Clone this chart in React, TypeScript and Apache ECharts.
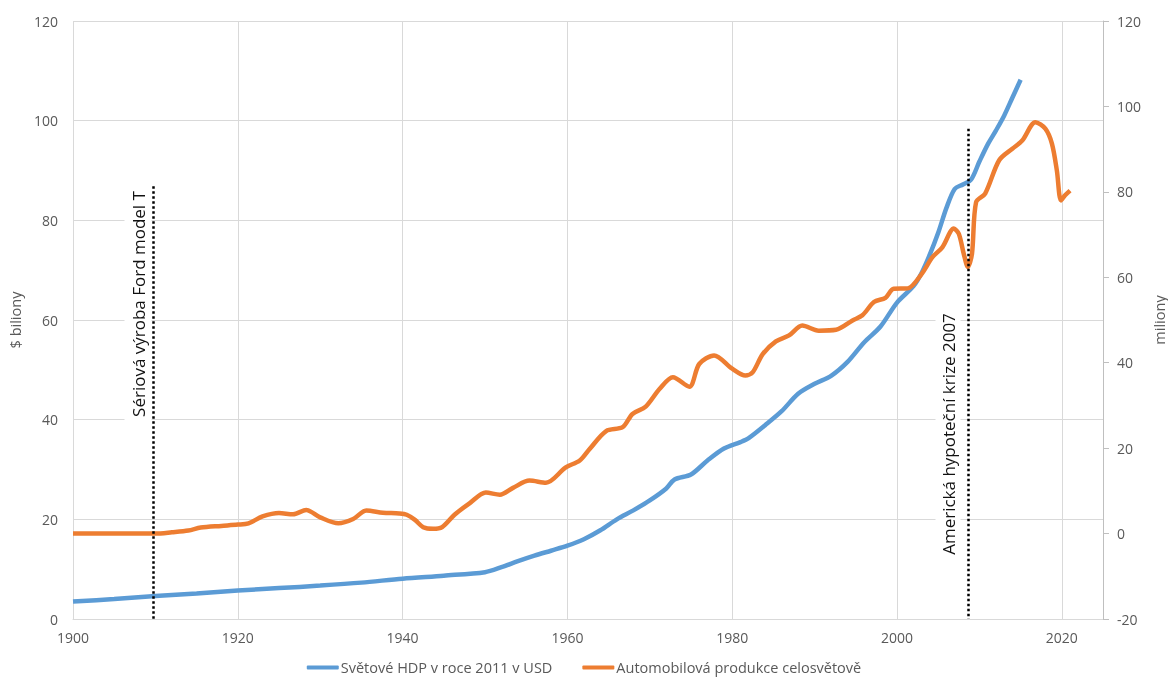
import React, { useEffect, useRef } from "react";
import * as echarts from "echarts";

// Světové HDP v roce 2011 v USD ($ biliony, left axis)
const gdpYears = [1900, 1905, 1910, 1915, 1920, 1925, 1930, 1935, 1940, 1945, 1950, 1952, 1954, 1956, 1958, 1960, 1962, 1964, 1966, 1968, 1970, 1972, 1973, 1975, 1977, 1979, 1981, 1982, 1984, 1986, 1988, 1990, 1992, 1994, 1996, 1998, 2000, 2002, 2003, 2004, 2005, 2006, 2007, 2008, 2009, 2010, 2011, 2012, 2013, 2014, 2015];
const gdpValues = [3.5, 4.0, 4.6, 5.1, 5.7, 6.2, 6.7, 7.3, 8.1, 8.7, 9.4, 10.4, 11.6, 12.7, 13.7, 14.7, 16.0, 17.8, 20.0, 21.8, 23.8, 26.2, 28.0, 29.0, 31.8, 34.2, 35.5, 36.3, 38.9, 41.7, 45.2, 47.2, 48.8, 51.6, 55.5, 58.7, 63.5, 66.8, 69.5, 73.2, 77.5, 82.5, 86.3, 87.2, 88.2, 91.8, 95.2, 98.0, 101.0, 104.6, 108.2];

// Automobilová produkce celosvětově (miliony, right axis)
const carYears = [1900, 1905, 1910, 1912, 1914, 1915.5, 1918, 1920, 1921.3, 1923, 1925, 1926.7, 1928.3, 1930, 1932.2, 1934, 1935.6, 1937.6, 1939.6, 1940.5, 1941.5, 1942.5, 1943.7, 1944.8, 1946.3, 1948.2, 1950.1, 1951.8, 1953.4, 1955.4, 1957.4, 1959.8, 1961.5, 1962.7, 1964.7, 1966.7, 1967.9, 1969.5, 1971.2, 1972.8, 1974.8, 1976, 1977.8, 1980, 1981.6, 1982.5, 1983.7, 1985.3, 1986.9, 1988.5, 1990.5, 1992.6, 1994.6, 1995.8, 1997.2, 1998.6, 1999.6, 2001.3, 2003, 2004.3, 2005.5, 2006.9, 2007.5, 2008.1, 2008.6, 2009.1, 2009.6, 2010.7, 2012.4, 2014, 2015.2, 2016.8, 2018, 2018.8, 2019.4, 2019.9, 2020.4, 2021];
const carValues = [0, 0, 0, 0.3, 0.7, 1.4, 1.8, 2.1, 2.4, 4.0, 4.8, 4.5, 5.5, 3.8, 2.4, 3.4, 5.4, 4.9, 4.7, 4.4, 3.2, 1.5, 1.1, 1.5, 4.4, 7.2, 9.6, 9.1, 10.7, 12.4, 11.9, 15.5, 17.1, 19.8, 24.0, 24.9, 28.0, 29.7, 33.9, 36.6, 34.4, 39.7, 41.7, 38.6, 37.0, 37.8, 42.0, 45.0, 46.4, 48.7, 47.5, 47.7, 49.9, 51.1, 54.2, 55.2, 57.3, 57.4, 60.8, 64.7, 67.0, 71.4, 70.2, 65.5, 62.4, 65.5, 77.6, 79.6, 87.4, 90.1, 92.0, 96.3, 94.8, 91.3, 85.0, 78.0, 79.2, 80.3];

// annotations (year, top value on right axis)
const annotationYears = [1909.7, 2008.7];
const annotationTops = [81.3, 94.8];
const annotationTexts = ["Sériová výroba Ford model T", "Americká hypoteční krize 2007"];

const seriesNames = ["Světové HDP v roce 2011 v USD", "Automobilová produkce celosvětově"];

const FONT = "'Open Sans', 'Noto Sans', sans-serif";
const GREY = "#595959";

export default function App() {
  const ref = useRef<HTMLDivElement>(null);
  useEffect(() => {
    if (!ref.current) return;
    const chart = echarts.init(ref.current, undefined, { renderer: "svg" });
    const gdpData = gdpYears.map((y, i) => [y, gdpValues[i]]);
    const carData = carYears.map((y, i) => [y, carValues[i]]);
    const option: any = {
      animation: false,
      textStyle: { fontFamily: FONT },
      grid: {
        left: 73,
        right: 65,
        top: 21,
        bottom: 63,
        containLabel: false,
        outerBoundsMode: "none",
      },
      legend: {
        data: seriesNames,
        bottom: 2,
        left: "center",
        icon: "roundRect",
        itemWidth: 32,
        itemHeight: 4,
        itemGap: 30,
        textStyle: { color: GREY, fontSize: 14.5, fontFamily: FONT, padding: [0, 0, 0, -3] },
      },
      xAxis: {
        type: "value",
        min: 1900,
        max: 2025,
        interval: 20,
        axisLine: { show: true, lineStyle: { color: "#d9d9d9", width: 1 } },
        axisTick: { show: false },
        axisLabel: {
          color: GREY,
          fontSize: 14,
          margin: 11,
          showMaxLabel: false,
          formatter: (v: number) => String(v),
        },
        splitLine: { show: true, lineStyle: { color: "#d9d9d9" } },
      },
      yAxis: [
        {
          type: "value",
          min: 0,
          max: 120,
          interval: 20,
          name: "$ biliony",
          nameLocation: "middle",
          nameRotate: 90,
          nameGap: 46,
          nameTextStyle: { color: GREY, fontSize: 14.5 },
          axisLine: { show: false },
          axisTick: { show: false },
          axisLabel: { color: GREY, fontSize: 14, margin: 15 },
          splitLine: { show: true, lineStyle: { color: "#d9d9d9" } },
        },
        {
          type: "value",
          position: "right",
          min: -20,
          max: 120,
          interval: 20,
          name: "miliony",
          nameLocation: "middle",
          nameRotate: 90,
          nameGap: 48,
          nameTextStyle: { color: GREY, fontSize: 14.5 },
          axisLine: { show: true, lineStyle: { color: "#bfbfbf" } },
          axisTick: { show: true, length: 6, lineStyle: { color: "#bfbfbf" } },
          axisLabel: { color: GREY, fontSize: 14, margin: 14 },
          splitLine: { show: false },
        },
      ],
      series: [
        {
          name: seriesNames[0],
          type: "line",
          yAxisIndex: 0,
          data: gdpData,
          symbol: "none",
          smooth: 0.3,
          lineStyle: { color: "#5b9bd5", width: 4.5 },
          itemStyle: { color: "#5b9bd5" },
          z: 2,
        },
        {
          name: seriesNames[1],
          type: "line",
          yAxisIndex: 1,
          data: carData,
          symbol: "none",
          smooth: 0.3,
          lineStyle: { color: "#ed7d31", width: 4.5 },
          itemStyle: { color: "#ed7d31" },
          z: 3,
          markLine: {
            silent: true,
            symbol: ["none", "none"],
            label: { show: false },
            lineStyle: { color: "#000", type: "dotted", width: 2.5 },
            data: annotationYears.map((yr, i) => [
              { coord: [yr, annotationTops[i]] },
              { coord: [yr, -20] },
            ]),
          },
        },
      ],
      graphic: [
        {
          type: "text",
          x: 138,
          y: 304,
          rotation: Math.PI / 2,
          z: 10,
          style: {
            text: annotationTexts[0],
            fontSize: 17,
            fontFamily: FONT,
            fill: "#111",
            align: "center",
            verticalAlign: "middle",
            backgroundColor: "#fff",
            padding: [10, 3, 0, 3],
          },
        },
        {
          type: "text",
          x: 948,
          y: 434,
          rotation: Math.PI / 2,
          z: 10,
          style: {
            text: annotationTexts[1],
            fontSize: 17,
            fontFamily: FONT,
            fill: "#111",
            align: "center",
            verticalAlign: "middle",
            backgroundColor: "#fff",
            padding: [8, 3, 0, 3],
          },
        },
      ],
    };
    chart.setOption(option);
    return () => chart.dispose();
  }, []);
  return (
    <div
      ref={ref}
      style={{ position: "fixed", left: 0, top: 0, width: 1168, height: 682 }}
    />
  );
}
